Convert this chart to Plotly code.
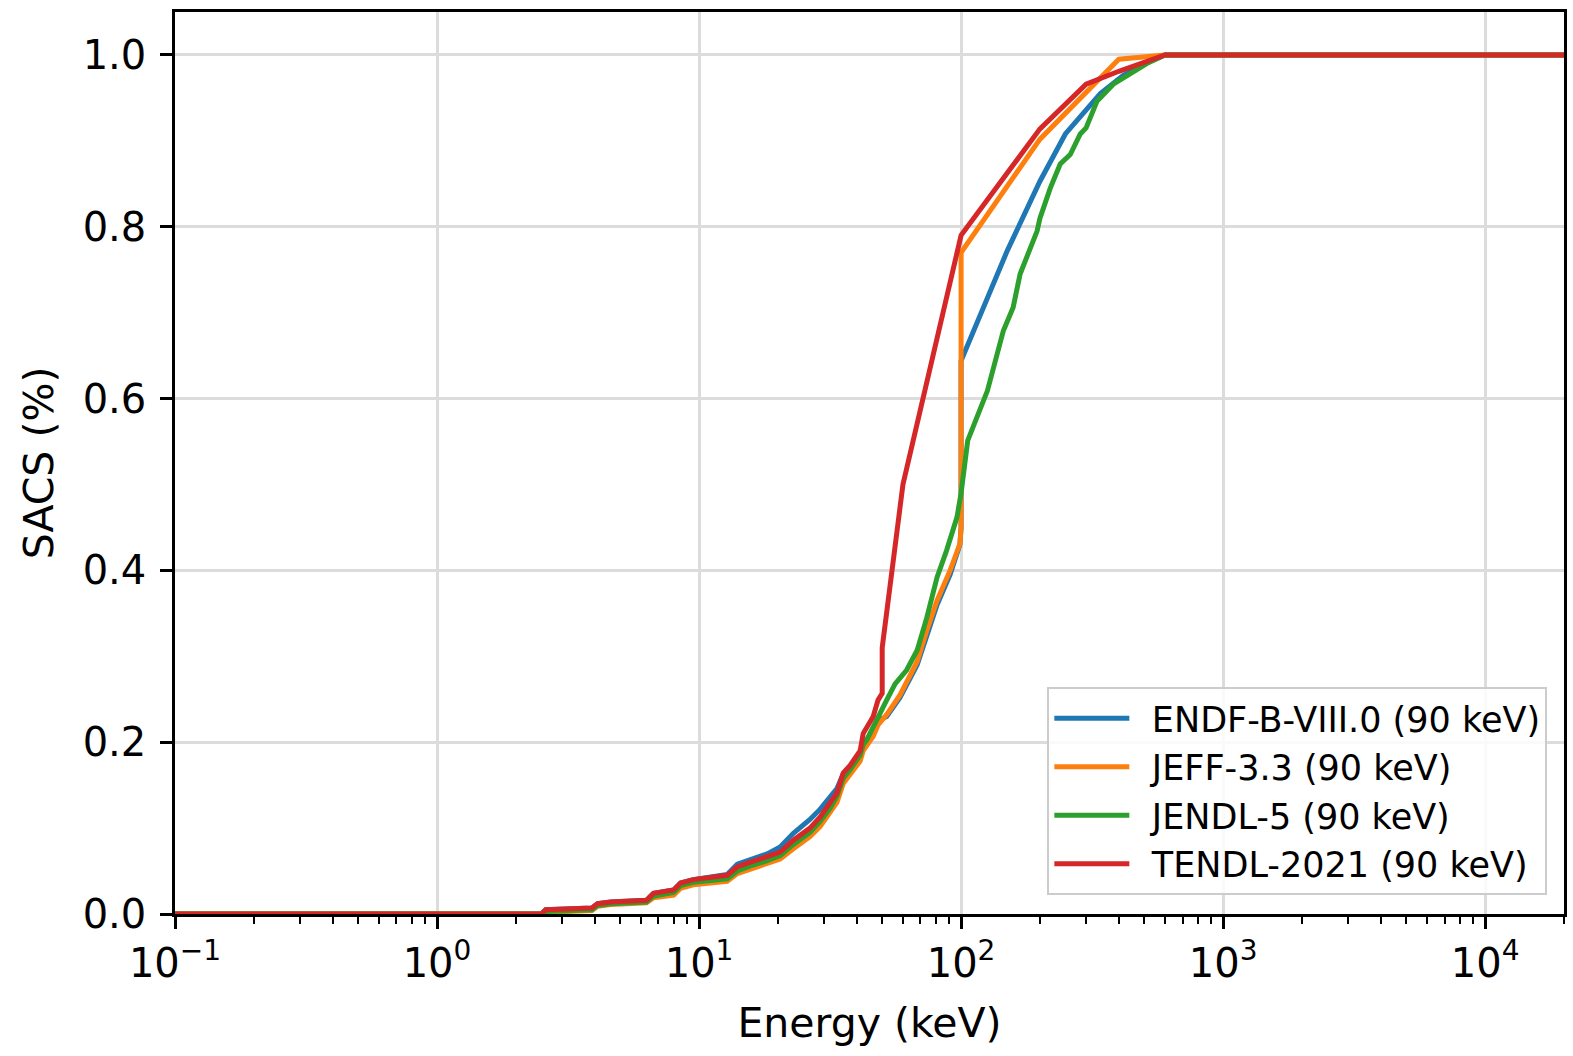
import plotly.graph_objects as go

# ---------------- data ----------------
low_x = [0.1, 2.5, 2.6, 3.9, 4.1, 4.6, 6.3, 6.7, 8.0, 8.5, 9.5, 12.8, 14.0, 15.7,
         18.2, 20.4, 22.9, 26.5, 29.0, 31.6, 33.6, 35.5, 37.7, 41.2, 42.3, 46.2, 48.2]

endf_x = low_x + [52, 58.5, 68, 74, 81, 90.8, 99, 100, 100, 150, 200, 250, 300, 340,
                  415, 512, 600, 20000]
endf_y = [0, 0, 0.005, 0.007, 0.012, 0.014, 0.016, 0.024, 0.028, 0.036, 0.040, 0.046,
          0.058, 0.063, 0.070, 0.078, 0.094, 0.110, 0.122, 0.136, 0.146, 0.163, 0.172,
          0.185, 0.195, 0.215, 0.225,
          0.230, 0.252, 0.290, 0.325, 0.360, 0.395, 0.430, 0.450, 0.644, 0.772, 0.853,
          0.908, 0.935, 0.955, 0.976, 0.991, 1.0, 1.0]

jeff_x = low_x + [52, 58.5, 68, 74, 81, 90.8, 99, 100, 100, 200, 400, 600, 20000]
jeff_y = [0, 0, 0.002, 0.004, 0.009, 0.011, 0.013, 0.019, 0.022, 0.030, 0.034, 0.038,
          0.047, 0.052, 0.058, 0.064, 0.076, 0.090, 0.102, 0.117, 0.130, 0.152, 0.162,
          0.178, 0.190, 0.207, 0.220,
          0.232, 0.255, 0.294, 0.330, 0.365, 0.400, 0.431, 0.450, 0.770, 0.902, 0.995,
          1.0, 1.0]

jendl_x = low_x[:25] + [43.7, 52, 56, 62, 68, 74, 81, 88, 96.5, 100, 106, 126, 145, 158,
                        168, 195, 200, 219, 239, 261, 285, 300, 330, 381, 511, 600, 20000]
jendl_y = [0, 0, 0.003, 0.005, 0.010, 0.012, 0.014, 0.021, 0.025, 0.033, 0.037, 0.041,
           0.050, 0.056, 0.062, 0.068, 0.081, 0.095, 0.108, 0.123, 0.137, 0.158, 0.168,
           0.185, 0.197,
           0.203, 0.249, 0.268, 0.284, 0.307, 0.345, 0.392, 0.423, 0.462, 0.490, 0.551,
           0.609, 0.679, 0.706, 0.745, 0.795, 0.810, 0.845, 0.873, 0.884, 0.908, 0.915,
           0.946, 0.966, 0.990, 1.0, 1.0]

tendl_x = low_x + [50, 50, 60, 100, 200, 300, 400, 600, 20000]
tendl_y = [0, 0, 0.005, 0.007, 0.012, 0.014, 0.016, 0.024, 0.028, 0.036, 0.040, 0.045,
           0.055, 0.060, 0.066, 0.072, 0.086, 0.100, 0.113, 0.129, 0.141, 0.164, 0.173,
           0.190, 0.210, 0.230, 0.249,
           0.257, 0.310, 0.500, 0.790, 0.914, 0.966, 0.981, 1.0, 1.0]

series_names = ["ENDF-B-VIII.0 (90 keV)", "JEFF-3.3 (90 keV)", "JENDL-5 (90 keV)",
                "TENDL-2021 (90 keV)"]
series_colors = ["#1f77b4", "#ff7f0e", "#2ca02c", "#d62728"]

x_tick_vals = [0.1, 1, 10, 100, 1000, 10000]
x_tick_text = ["10<sup>\u22121</sup>", "10<sup>0</sup>", "10<sup>1</sup>",
               "10<sup>2</sup>", "10<sup>3</sup>", "10<sup>4</sup>"]
y_tick_vals = [0, 0.2, 0.4, 0.6, 0.8, 1.0]
y_tick_text = ["0.0", "0.2", "0.4", "0.6", "0.8", "1.0"]

# ---------------- figure ----------------
fig = go.Figure()
for name, color, xs, ys in zip(series_names, series_colors,
                               [endf_x, jeff_x, jendl_x, tendl_x],
                               [endf_y, jeff_y, jendl_y, tendl_y]):
    fig.add_trace(go.Scatter(x=xs, y=ys, mode="lines", name="\u2002" + name,
                             line=dict(color=color, width=5)))

font_family = "DejaVu Sans"
fig.update_layout(
    width=1573, height=1056,
    margin=dict(l=175, r=6, t=12, b=142),
    paper_bgcolor="white", plot_bgcolor="white",
    font=dict(family=font_family, size=40, color="black"),
    showlegend=True,
    legend=dict(x=0.988, y=0.021, xanchor="right", yanchor="bottom",
                bgcolor="rgba(255,255,255,0.85)", bordercolor="#cccccc",
                borderwidth=2, font=dict(size=35, family=font_family),
                itemwidth=75, tracegroupgap=0),
)

fig.update_xaxes(
    type="log", range=[-1, 4.301],
    tickmode="array", tickvals=x_tick_vals, ticktext=x_tick_text,
    ticks="outside", ticklen=12, tickwidth=2.5, tickcolor="black",
    showline=True, linecolor="black", linewidth=2.5, mirror=True,
    showgrid=True, gridcolor="#dcdcdc", gridwidth=2.5,
    zeroline=False,
    tickfont=dict(size=40),
    minor=dict(ticks="outside", ticklen=7, tickwidth=2, tickcolor="black",
               dtick="D1", showgrid=False),
    title=dict(text="Energy (keV)", font=dict(size=41), standoff=24),
)
fig.update_yaxes(
    range=[0, 1.05], tickmode="array", tickvals=y_tick_vals, ticktext=y_tick_text,
    ticks="outside", ticklen=12, tickwidth=2.5, tickcolor="black",
    ticklabelstandoff=6,
    showline=True, linecolor="black", linewidth=2.5, mirror=True,
    showgrid=True, gridcolor="#dcdcdc", gridwidth=2.5,
    zeroline=False,
    tickfont=dict(size=40),
    title=dict(text="SACS (%)", font=dict(size=41), standoff=17),
)

fig.write_html("out.html")
